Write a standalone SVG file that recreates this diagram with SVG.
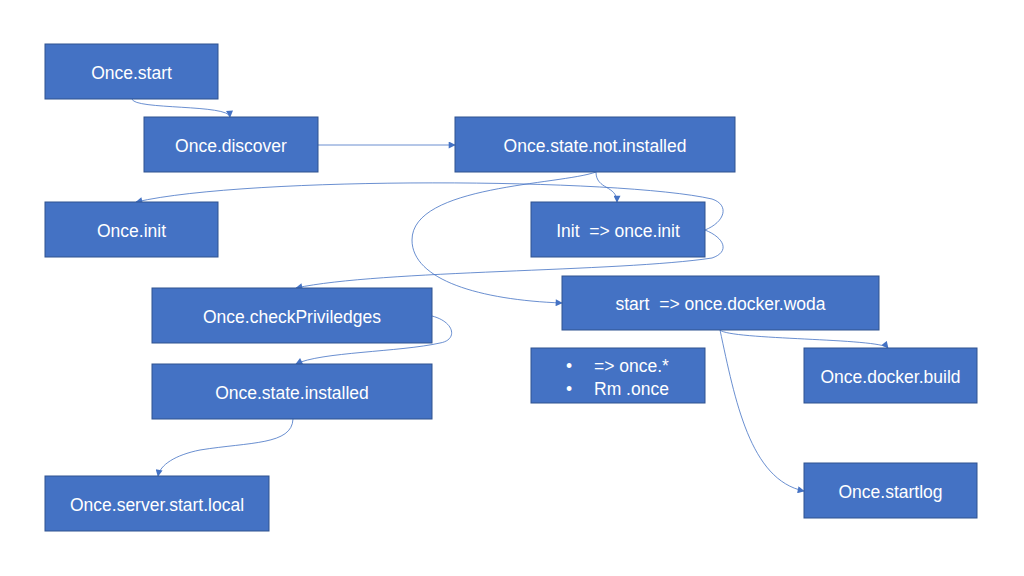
<svg xmlns="http://www.w3.org/2000/svg" width="1024" height="576" viewBox="0 0 1024 576">
<style>
.node rect{fill:#4472C4;stroke:#2F528F;stroke-width:1}
.node text{fill:#FFFFFF;font-family:"Liberation Sans",Arial,sans-serif;font-size:17.5px;text-anchor:middle}
.conn path{fill:none;stroke:#4472C4;stroke-width:0.8;marker-end:url(#arr)}
</style>
<defs>
<marker id="arr" viewBox="0 0 10 10" refX="9" refY="5" markerUnits="userSpaceOnUse" markerWidth="8" markerHeight="7" orient="auto">
<path d="M0,0 L10,5 L0,10 z" fill="#4472C4"/>
</marker>
</defs>
<rect width="1024" height="576" fill="#FFFFFF"/>
<g id="connectors" class="conn">
<path d="M132,99 C134,110 229,104 230,117"/>
<path d="M318,145 L455,145"/>
<path d="M596,172 C596,190 617,185 617,202"/>
<path d="M596,172 C560,185 412,185 412,240 C412,280 480,300 562,303"/>
<path d="M705,230 C725,222 730,205 712,199 C620,178 250,176 136,202"/>
<path d="M705,230 C725,238 730,252 712,258 C620,272 380,270 296,288"/>
<path d="M432,316 C455,322 458,340 440,343 C400,352 320,352 296,364"/>
<path d="M293,419 C292,445 250,442 200,450 C175,455 160,465 158,476"/>
<path d="M720,330 C730,340 880,338 888,348"/>
<path d="M720,330 C735,400 750,480 804,491"/>
</g>
<g id="once-start" class="node"><rect x="45" y="44" width="173" height="55"/><text x="131.5" y="79">Once.start</text></g>
<g id="once-discover" class="node"><rect x="144" y="117" width="174" height="55"/><text x="231" y="152">Once.discover</text></g>
<g id="once-state-not-installed" class="node"><rect x="455" y="117" width="280" height="55"/><text x="595" y="152">Once.state.not.installed</text></g>
<g id="once-init" class="node"><rect x="45" y="202" width="173" height="55"/><text x="131.5" y="237">Once.init</text></g>
<g id="init-once-init" class="node"><rect x="531" y="202" width="174" height="55"/><text x="618" y="237" xml:space="preserve">Init  =&gt; once.init</text></g>
<g id="start-docker-woda" class="node"><rect x="562" y="276" width="317" height="54"/><text x="720.5" y="310" xml:space="preserve">start  =&gt; once.docker.woda</text></g>
<g id="once-checkpriviledges" class="node"><rect x="152" y="288" width="280" height="55"/><text x="292" y="323">Once.checkPriviledges</text></g>
<g id="once-state-installed" class="node"><rect x="152" y="364" width="280" height="55"/><text x="292" y="399">Once.state.installed</text></g>
<g id="bullets" class="node"><rect x="531" y="348" width="174" height="55"/>
<text x="569" y="372">•</text><text x="594" y="372" style="text-anchor:start">=&gt; once.*</text>
<text x="569" y="395">•</text><text x="594" y="395" style="text-anchor:start">Rm .once</text></g>
<g id="once-docker-build" class="node"><rect x="804" y="348" width="173" height="55"/><text x="890.5" y="383">Once.docker.build</text></g>
<g id="once-startlog" class="node"><rect x="804" y="463" width="173" height="55"/><text x="890.5" y="498">Once.startlog</text></g>
<g id="once-server-start-local" class="node"><rect x="45" y="476" width="224" height="55"/><text x="157" y="511">Once.server.start.local</text></g>
</svg>
